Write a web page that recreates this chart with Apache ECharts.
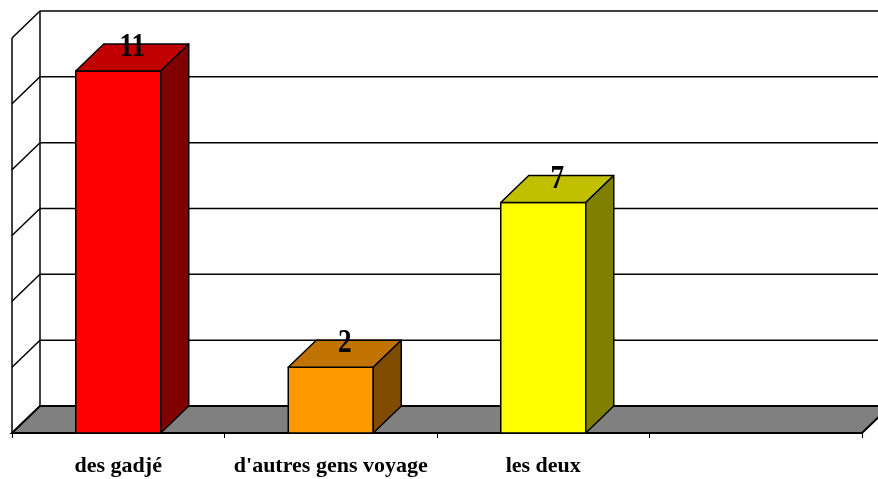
<!DOCTYPE html>
<html><head><meta charset="utf-8">
<script src="https://cdn.jsdelivr.net/npm/echarts@6/dist/echarts.min.js"></script>
<style>html,body{margin:0;padding:0;background:#fff}#c{width:878px;height:479px}</style>
</head><body><div id="c"></div>
<script>
const categories = ['des gadjé', "d'autres gens voyage", 'les deux', ''];
const values = [11, 2, 7];
const labels = ['11', '2', '7'];
const yMax = 12;
const yStep = 2;
const yTicks = [0, 2, 4, 6, 8, 10, 12];

const frontColors = ['#FF0000', '#FF9900', '#FFFF00'];
const topColors = ['#C00000', '#C07300', '#C0C000'];
const sideColors = ['#800000', '#804C00', '#808000'];

const DX = 28, DY = 27;
const LW = 1.5;

const chart = echarts.init(document.getElementById('c'), null, {renderer: 'canvas'});

function bandInfo(api) {
  const band = api.size([1, 0])[0];
  const c0 = api.coord([0, 0]);
  const left = c0[0] - band / 2;
  const right = left + band * categories.length;
  return {band, left, right, base: c0[1]};
}

const wallSeries = {
  type: 'custom', z: 1, silent: true,
  data: yTicks.map(t => [0, t]),
  encode: {x: 0, y: 1},
  renderItem: function (params, api) {
    const b = bandInfo(api);
    const y = api.coord([0, api.value(1)])[1];
    const children = [
      {type: 'line', shape: {x1: b.left, y1: y, x2: b.left + DX, y2: y - DY}, style: {stroke: '#000', lineWidth: LW}},
      {type: 'line', shape: {x1: b.left + DX, y1: y - DY, x2: b.right + DX, y2: y - DY}, style: {stroke: '#000', lineWidth: LW}}
    ];
    if (params.dataIndex === 0) {
      const yt = api.coord([0, yMax])[1];
      children.push({type: 'line', shape: {x1: b.left, y1: b.base, x2: b.left, y2: yt}, style: {stroke: '#000', lineWidth: LW}});
      children.push({type: 'line', shape: {x1: b.left + DX, y1: b.base - DY, x2: b.left + DX, y2: yt - DY}, style: {stroke: '#000', lineWidth: LW}});
    }
    return {type: 'group', children};
  }
};

const floorSeries = {
  type: 'custom', z: 2, silent: true,
  data: [[0, 0]],
  encode: {x: 0, y: 1},
  renderItem: function (params, api) {
    const b = bandInfo(api);
    const y = b.base;
    return {
      type: 'polygon',
      shape: {points: [[b.left, y], [b.left + DX, y - DY], [b.right + DX, y - DY], [b.right, y]]},
      style: {fill: '#808080', stroke: '#000', lineWidth: 2}
    };
  }
};

const barSeries = {
  type: 'custom', z: 3, silent: true,
  data: values.map((v, i) => [i, v]),
  encode: {x: 0, y: 1},
  renderItem: function (params, api) {
    const i = params.dataIndex;
    const base = api.coord([api.value(0), 0]);
    const top = api.coord([api.value(0), api.value(1)]);
    const bw = api.size([1, 0])[0] * 0.4;
    const xl = base[0] - bw / 2, xr = base[0] + bw / 2, yb = base[1], yt = top[1];
    const st = {stroke: '#000', lineWidth: LW, lineJoin: 'round'};
    return {
      type: 'group',
      children: [
        {type: 'polygon', shape: {points: [[xl, yb], [xl, yt], [xr, yt], [xr, yb]]}, style: Object.assign({fill: frontColors[i]}, st)},
        {type: 'polygon', shape: {points: [[xl, yt], [xl + DX, yt - DY], [xr + DX, yt - DY], [xr, yt]]}, style: Object.assign({fill: topColors[i]}, st)},
        {type: 'polygon', shape: {points: [[xr, yt], [xr + DX, yt - DY], [xr + DX, yb - DY], [xr, yb]]}, style: Object.assign({fill: sideColors[i]}, st)},
        {type: 'text', x: base[0] + DX / 2, y: yt - DY / 2 - 10, scaleX: 0.8,
          style: {text: labels[i], x: 0, y: 0, align: 'center', verticalAlign: 'middle',
            fill: '#000', font: 'bold 34px "Liberation Serif", "Times New Roman", serif'}}
      ]
    };
  }
};

chart.setOption({
  animation: false,
  backgroundColor: '#fff',
  grid: {left: 12, right: 16, top: 38, bottom: 46},
  xAxis: {
    type: 'category', data: categories, boundaryGap: true,
    axisLine: {show: true, lineStyle: {color: '#000', width: 2}},
    axisTick: {show: true, length: 5, interval: 0, lineStyle: {color: '#000', width: 1}},
    axisLabel: {show: true, interval: 0, margin: 22, color: '#000', fontSize: 22, fontWeight: 'bold',
      fontFamily: '"Liberation Serif", "Times New Roman", serif'},
    splitLine: {show: false}
  },
  yAxis: {
    type: 'value', min: 0, max: yMax, interval: yStep,
    axisLine: {show: false}, axisTick: {show: false}, axisLabel: {show: false}, splitLine: {show: false}
  },
  series: [wallSeries, floorSeries, barSeries]
});
</script>
</body></html>
